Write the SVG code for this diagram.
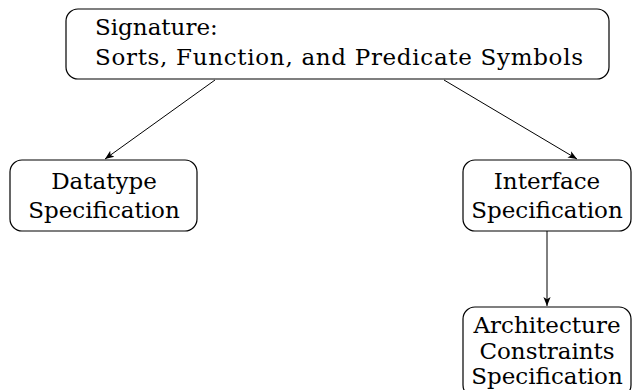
<svg xmlns="http://www.w3.org/2000/svg" width="643" height="390" viewBox="0 0 643 390">
<style>
.box{fill:#fff;stroke:#000;stroke-width:1.2}
.t{font-family:"DejaVu Serif","Liberation Serif",serif;font-size:23px;fill:#000}
.c{text-anchor:middle}
.e{stroke:#000;stroke-width:1;fill:none}
</style>
<defs>
<marker id="a" viewBox="0 0 10 10" refX="10" refY="5" markerWidth="9" markerHeight="9" markerUnits="userSpaceOnUse" orient="auto">
<path d="M0,1 L10,5 L0,9 L2.5,5 Z" fill="#000"/>
</marker>
</defs>
<g id="connectors">
<line class="e" x1="215" y1="80" x2="105" y2="159" marker-end="url(#a)"/>
<line class="e" x1="444" y1="80" x2="577" y2="159" marker-end="url(#a)"/>
<line class="e" x1="547" y1="231" x2="547" y2="306" marker-end="url(#a)"/>
</g>
<g id="signature">
<rect class="box" x="66" y="9" width="543" height="70" rx="12"/>
<text class="t" x="95" y="35">Signature:</text>
<text class="t" x="95" y="65" textLength="488" lengthAdjust="spacing">Sorts, Function, and Predicate Symbols</text>
</g>
<g id="datatype">
<rect class="box" x="10" y="160" width="187" height="71" rx="12"/>
<text class="t c" x="104" y="189">Datatype</text>
<text class="t c" x="104" y="218">Specification</text>
</g>
<g id="interface">
<rect class="box" x="463" y="160" width="168" height="71" rx="12"/>
<text class="t c" x="547" y="189">Interface</text>
<text class="t c" x="547" y="218">Specification</text>
</g>
<g id="architecture">
<rect class="box" x="463" y="307" width="168" height="90" rx="12"/>
<text class="t c" x="547" y="333">Architecture</text>
<text class="t c" x="547" y="359">Constraints</text>
<text class="t c" x="547" y="384">Specification</text>
</g>
</svg>
